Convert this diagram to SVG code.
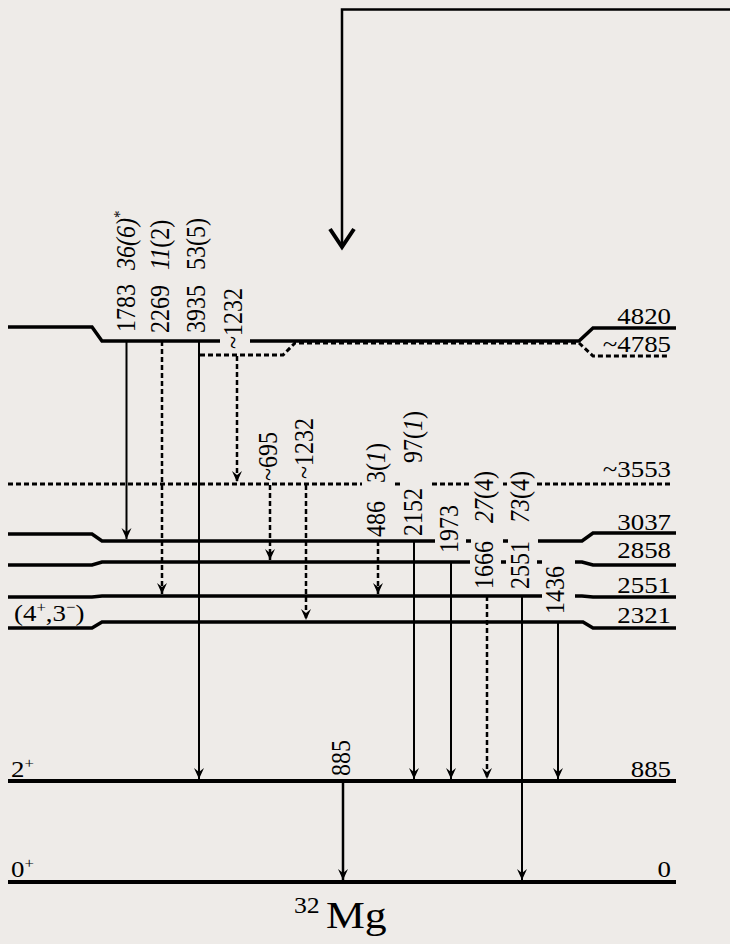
<svg xmlns="http://www.w3.org/2000/svg" width="730" height="944" viewBox="0 0 730 944" font-family="'Liberation Serif', 'DejaVu Serif', serif">
<defs>
<marker id="ah" markerUnits="userSpaceOnUse" viewBox="-12 -6 13 12" refX="0" refY="0" markerWidth="13" markerHeight="12" orient="auto">
<path d="M0,0 L-11,-5 L-7,0 L-11,5 Z" fill="#000"/>
</marker>
</defs>
<style>
.lv{fill:none;stroke:#000;stroke-width:3.5}
.lv0{fill:none;stroke:#000;stroke-width:4}
.lvd{fill:none;stroke:#000;stroke-width:3;stroke-dasharray:5 3}
.tr{fill:none;stroke:#000;stroke-width:2;marker-end:url(#ah)}
.trd{fill:none;stroke:#000;stroke-width:2.5;stroke-dasharray:5 3;marker-end:url(#ah)}
text{font-family:'Liberation Serif', serif;font-size:24px;fill:#000}
.it{font-style:italic}
.sup{font-size:15px}
</style>
<rect width="730" height="944" fill="#EEEBE8"/>

<g id="level-4820">
<path class="lv" d="M8,327 H92 L102,341 H220 M250,341 H579 L593,328 H676"/>
<text transform="translate(671,324) scale(1.12,1)" text-anchor="end">4820</text>
</g>
<g id="level-4785">
<path class="lvd" d="M200,355 H283 L295,343 H579 L593,356 H669"/>
<text transform="translate(671,352) scale(1.12,1)" text-anchor="end">~4785</text>
</g>
<g id="level-3553">
<path class="lvd" d="M8,484 H362 M395,484 H401 M432,484 H470 M503,484 H507 M537,484 H670"/>
<text transform="translate(671,477) scale(1.12,1)" text-anchor="end">~3553</text>
</g>
<g id="level-3037">
<path class="lv" d="M8,534 H92 L102,541 H435 M466,541 H471 M503,541 H508 M538,541 H582 L593,533 H676"/>
<text transform="translate(671,530) scale(1.12,1)" text-anchor="end">3037</text>
</g>
<g id="level-2858">
<path class="lv" d="M8,565 H92 L102,562 H470 M501,562 H506 M537,562 H542 M575,562 H582 L593,565 H676"/>
<text transform="translate(671,558) scale(1.12,1)" text-anchor="end">2858</text>
</g>
<g id="level-2551">
<path class="lv" d="M8,597 H92 L102,596 H542 M575,596 H582 L593,597 H676"/>
<text transform="translate(671,593) scale(1.12,1)" text-anchor="end">2551</text>
</g>
<g id="level-2321">
<path class="lv" d="M8,628 H92 L102,622 H583 L593,628 H676"/>
<text transform="translate(671,623) scale(1.12,1)" text-anchor="end">2321</text>
<text transform="translate(14,621) scale(1.12,1)">(4<tspan class="sup" dy="-9">+</tspan><tspan dy="9">,3</tspan><tspan class="sup" dy="-9">−</tspan><tspan dy="9">)</tspan></text>
</g>
<g id="level-885">
<path class="lv0" d="M8,781 H676"/>
<text transform="translate(671,777) scale(1.12,1)" text-anchor="end">885</text>
<text transform="translate(11,777) scale(1.12,1)">2<tspan class="sup" dy="-9">+</tspan></text>
</g>
<g id="level-0">
<path class="lv0" d="M8,882 H676"/>
<text transform="translate(671,877) scale(1.12,1)" text-anchor="end">0</text>
<text transform="translate(11,877) scale(1.12,1)">0<tspan class="sup" dy="-9">+</tspan></text>
</g>
<g id="nucleus">
<text transform="translate(294,913) scale(1.12,1)" style="font-size:23px">32</text>
<text transform="translate(326,928) scale(1.15,1)" style="font-size:38px">Mg</text>
</g>

<g id="connectors">
<path d="M730,9.5 H342 V246" fill="none" stroke="#000" stroke-width="2.5"/>
<path d="M330,229 L342,247 L354,229" fill="none" stroke="#000" stroke-width="4"/>
<path class="tr" d="M126.5,341 V539"/>
<path class="trd" d="M162,341 V594"/>
<path class="tr" d="M199,341 V779"/>
<path class="trd" d="M237,356 V482"/>
<path class="trd" d="M270,485 V560"/>
<path class="trd" d="M306,485 V620"/>
<path class="trd" d="M378,541 V594"/>
<path class="tr" d="M414,541 V779"/>
<path class="tr" d="M451,562 V779"/>
<path class="trd" d="M487,596 V779"/>
<path class="tr" d="M522,596 V880"/>
<path class="tr" d="M558,622 V779"/>
<path class="tr" style="stroke-width:2.5" d="M343,781 V880"/>
</g>

<g id="labels">
<text transform="translate(135,332) scale(1.15,1) rotate(-90)">1783</text>
<text transform="translate(135,270) scale(1.15,1) rotate(-90)"><tspan class="it">36(6)</tspan><tspan class="sup" dy="-9">*</tspan></text>
<text transform="translate(169,333) scale(1.15,1) rotate(-90)">2269</text>
<text transform="translate(169,270) scale(1.15,1) rotate(-90)"><tspan class="it">11</tspan>(2)</text>
<text transform="translate(205,333) scale(1.15,1) rotate(-90)">3935</text>
<text transform="translate(205,270) scale(1.15,1) rotate(-90)">53(5)</text>
<text transform="translate(242,349) scale(1.15,1) rotate(-90)">~1232</text>
<text transform="translate(277,481) scale(1.15,1) rotate(-90)">~695</text>
<text transform="translate(313,479) scale(1.15,1) rotate(-90)">~1232</text>
<text transform="translate(385,537) scale(1.15,1) rotate(-90)">486</text>
<text transform="translate(385,483) scale(1.15,1) rotate(-90)">3(<tspan class="it">1</tspan>)</text>
<text transform="translate(422,536) scale(1.15,1) rotate(-90)">2152</text>
<text transform="translate(422,463) scale(1.15,1) rotate(-90)">97(<tspan class="it">1</tspan>)</text>
<text transform="translate(458,553) scale(1.15,1) rotate(-90)">1973</text>
<text transform="translate(493,589) scale(1.15,1) rotate(-90)">1666</text>
<text transform="translate(493,523) scale(1.15,1) rotate(-90)"><tspan class="it">27</tspan>(4)</text>
<text transform="translate(529,589) scale(1.15,1) rotate(-90)">2551</text>
<text transform="translate(529,523) scale(1.15,1) rotate(-90)"><tspan class="it">73</tspan>(4)</text>
<text transform="translate(564,614) scale(1.15,1) rotate(-90)">1436</text>
<text transform="translate(350,776) scale(1.15,1) rotate(-90)">885</text>
</g>
</svg>
